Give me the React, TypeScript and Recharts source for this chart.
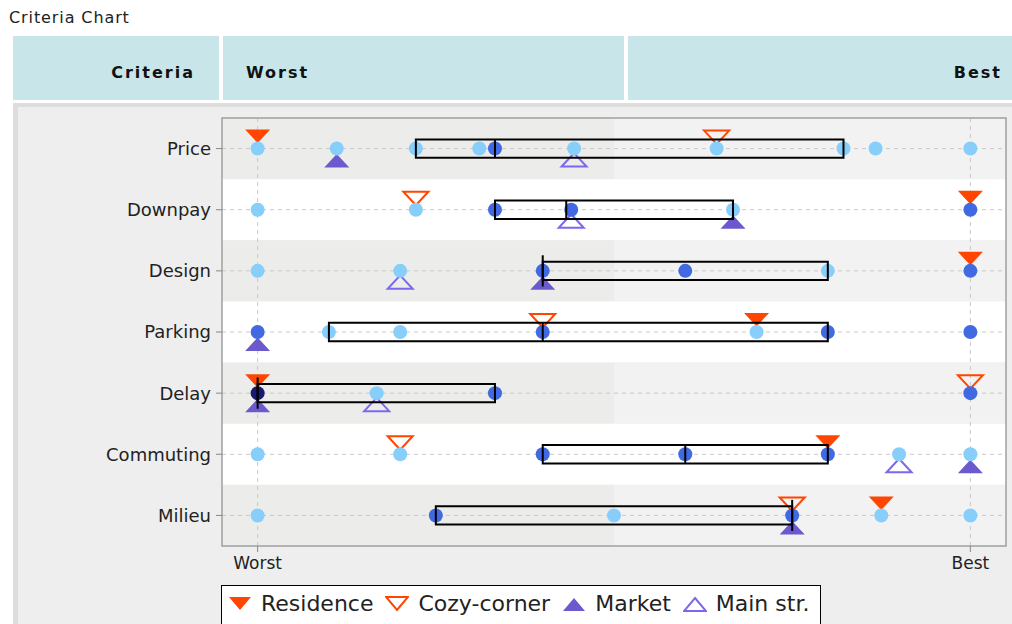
import React from "react";
import {
  ReferenceArea,
  ReferenceLine,
  Scatter,
  ScatterChart,
  XAxis,
  YAxis,
} from "recharts";

const criteria = ["Price", "Downpay", "Design", "Parking", "Delay", "Commuting", "Milieu"];
const xTicks = [0, 1];
const xTickLabels = ["Worst", "Best"];

// option values per criterion (0 = worst, 1 = best)
const lightDots: number[][] = [
  [0, 0.111, 0.222, 0.311, 0.444, 0.644, 0.822, 0.867, 1],
  [0, 0.222, 0.667],
  [0, 0.2, 0.8],
  [0.1, 0.2, 0.7],
  [0.167],
  [0, 0.2, 0.9, 1],
  [0, 0.5, 0.875, 1],
];
const darkDots: number[][] = [
  [0.333],
  [0.333, 0.44, 1],
  [0.4, 0.6, 1],
  [0, 0.4, 0.8, 1],
  [0.333, 1],
  [0.4, 0.6, 0.8],
  [0.25, 0.75],
];
const navyDots: number[][] = [[], [], [], [], [0], [], []];

const boxLow = [0.222, 0.333, 0.4, 0.1, 0, 0.4, 0.25];
const boxMedian = [0.333, 0.433, 0.4, 0.4, 0, 0.6, 0.75];
const boxHigh = [0.822, 0.667, 0.8, 0.8, 0.333, 0.8, 0.75];

const residence = [0, 1, 1, 0.7, 0, 0.8, 0.875];
const cozyCorner = [0.644, 0.222, null, 0.4, 1, 0.2, 0.75];
const market = [0.111, 0.667, 0.4, 0, 0, 1, 0.75];
const mainStr = [0.444, 0.44, 0.2, null, 0.167, 0.9, null];

const FONT = '"DejaVu Sans", sans-serif';
const RED = "#FF4500";
const PURPLE = "#6A5ACD";
const PURPLE_OPEN = "#7B68EE";

const toPoints = (rows: number[][]) =>
  rows.flatMap((vals, row) => vals.map((v) => ({ v, row })));
const toMarks = (vals: (number | null)[]) =>
  vals
    .map((v, row) => (v === null ? null : { v, row }))
    .filter((p) => p !== null) as { v: number; row: number }[];

const downTri = (cx: number, cy: number) =>
  `M${cx - 12.5},${cy - 19} L${cx + 12.5},${cy - 19} L${cx},${cy - 5.5} Z`;
const upTri = (cx: number, cy: number) =>
  `M${cx},${cy + 5.5} L${cx + 12.5},${cy + 19} L${cx - 12.5},${cy + 19} Z`;

const dot = (color: string) => (p: any) =>
  <circle cx={p.cx} cy={p.cy} r={7} fill={color} />;

const LegendTri = ({ up, filled, color }: { up: boolean; filled: boolean; color: string }) => (
  <svg width={24} height={16} style={{ marginRight: 9 }}>
    <path
      d={up ? "M12,2 L23,15 L1,15 Z" : "M1,1 L23,1 L12,14 Z"}
      fill={filled ? color : "none"}
      stroke={color}
      strokeWidth={filled ? 0 : 2}
    />
  </svg>
);

const legendItems = [
  { name: "Residence", up: false, filled: true, color: RED },
  { name: "Cozy-corner", up: false, filled: false, color: RED },
  { name: "Market", up: true, filled: true, color: PURPLE },
  { name: "Main str.", up: true, filled: false, color: PURPLE_OPEN },
];

const headerCell: React.CSSProperties = {
  position: "absolute",
  top: 36,
  height: 64,
  background: "#C8E6E9",
  fontFamily: FONT,
  fontWeight: "bold",
  fontSize: 16,
  letterSpacing: 2,
  color: "#111",
  lineHeight: "74px",
};

export default function App() {
  return (
    <div style={{ position: "absolute", left: 0, top: 0, width: 1012, height: 624, background: "#fff", overflow: "hidden" }}>
      <div style={{ position: "absolute", left: 9, top: 8, fontFamily: FONT, fontSize: 16, letterSpacing: 0.9, color: "#222" }}>
        Criteria Chart
      </div>
      <div style={{ ...headerCell, left: 13, width: 206, textAlign: "right" }}>
        <span style={{ marginRight: 24 }}>Criteria</span>
      </div>
      <div style={{ ...headerCell, left: 223, width: 401 }}>
        <span style={{ marginLeft: 23 }}>Worst</span>
      </div>
      <div style={{ ...headerCell, left: 628, width: 384, textAlign: "right" }}>
        <span style={{ marginRight: 10 }}>Best</span>
      </div>
      <div
        style={{
          position: "absolute",
          left: 13,
          top: 103,
          width: 999,
          height: 521,
          background: "#EEEEEE",
          boxSizing: "border-box",
          borderLeft: "5px solid #DDDDDD",
          borderTop: "4px solid #DDDDDD",
        }}
      />
      <div style={{ position: "absolute", left: 13, top: 103 }}>
        <ScatterChart width={999} height={521} margin={{ top: 15, right: 6, bottom: 48, left: 0 }}>
          <XAxis
            type="number"
            dataKey="v"
            domain={[-0.05, 1.05]}
            ticks={xTicks}
            interval={0}
            tickFormatter={(t: number) => xTickLabels[xTicks.indexOf(t)]}
            axisLine={false}
            tickLine={{ stroke: "#888" }}
            tickSize={6}
            tickMargin={5}
            height={30}
            tick={{ fontFamily: FONT, fontSize: 17, fill: "#222" }}
          />
          <YAxis
            type="number"
            dataKey="row"
            domain={[-0.5, 6.5]}
            reversed
            ticks={criteria.map((_, i) => i)}
            interval={0}
            tickFormatter={(i: number) => criteria[i]}
            axisLine={false}
            tickLine={{ stroke: "#888" }}
            tickSize={6}
            tickMargin={5}
            width={209}
            tick={{ fontFamily: FONT, fontSize: 18, fill: "#222" }}
          />
          {criteria.map((c, i) =>
            i % 2 === 0 ? (
              <React.Fragment key={c}>
                <ReferenceArea x1={-0.05} x2={0.5} y1={i - 0.5} y2={i + 0.5} fill="#ECEDEB" fillOpacity={1} strokeWidth={0} zIndex={50} />
                <ReferenceArea x1={0.5} x2={1.05} y1={i - 0.5} y2={i + 0.5} fill="#F2F2F2" fillOpacity={1} strokeWidth={0} zIndex={50} />
              </React.Fragment>
            ) : (
              <ReferenceArea key={c} x1={-0.05} x2={1.05} y1={i - 0.5} y2={i + 0.5} fill="#FFFFFF" fillOpacity={1} strokeWidth={0} zIndex={50} />
            )
          )}
          {criteria.map((c, i) => (
            <ReferenceLine key={"g" + c} y={i} stroke="#C8C8C8" strokeDasharray="4 4" zIndex={60} />
          ))}
          {xTicks.map((t) => (
            <ReferenceLine key={"gx" + t} x={t} stroke="#C8C8C8" strokeDasharray="4 4" zIndex={60} />
          ))}
          <ReferenceArea x1={-0.05} x2={1.05} y1={-0.5} y2={6.5} fill="none" stroke="#A0A0A0" strokeWidth={1.5} zIndex={65} />
          <Scatter
            data={toMarks(residence)}
            isAnimationActive={false}
            zIndex={600}
            shape={(p: any) => <path d={downTri(p.cx, p.cy)} fill={RED} />}
          />
          <Scatter
            data={toMarks(cozyCorner)}
            isAnimationActive={false}
            zIndex={600}
            shape={(p: any) => <path d={downTri(p.cx, p.cy + 1)} fill="none" stroke={RED} strokeWidth={2} />}
          />
          <Scatter
            data={toMarks(market)}
            isAnimationActive={false}
            zIndex={600}
            shape={(p: any) => <path d={upTri(p.cx, p.cy)} fill={PURPLE} />}
          />
          <Scatter
            data={toMarks(mainStr)}
            isAnimationActive={false}
            zIndex={600}
            shape={(p: any) => <path d={upTri(p.cx, p.cy - 1)} fill="none" stroke={PURPLE_OPEN} strokeWidth={2} />}
          />
          <Scatter data={toPoints(lightDots)} isAnimationActive={false} zIndex={610} shape={dot("#87CEFA")} />
          <Scatter data={toPoints(darkDots)} isAnimationActive={false} zIndex={610} shape={dot("#4169E1")} />
          <Scatter data={toPoints(navyDots)} isAnimationActive={false} zIndex={610} shape={dot("#191970")} />
          {criteria.map((c, i) => (
            <ReferenceArea
              key={"b" + c}
              x1={boxLow[i]}
              x2={boxHigh[i]}
              y1={i - 0.15}
              y2={i + 0.15}
              fill="none"
              stroke="#000"
              strokeWidth={2}
              zIndex={700}
            />
          ))}
          {criteria.map((c, i) => {
            const h = boxMedian[i] === boxLow[i] || boxMedian[i] === boxHigh[i] ? 0.255 : 0.15;
            return (
              <ReferenceLine
                key={"m" + c}
                segment={[
                  { x: boxMedian[i], y: i - h },
                  { x: boxMedian[i], y: i + h },
                ]}
                stroke="#000"
                strokeWidth={2}
                zIndex={700}
              />
            );
          })}
        </ScatterChart>
      </div>
      <div
        style={{
          position: "absolute",
          left: 221,
          top: 585,
          width: 600,
          height: 44,
          boxSizing: "border-box",
          border: "1px solid #000",
          background: "#fff",
          display: "flex",
          alignItems: "flex-start",
          paddingLeft: 6,
          paddingTop: 5,
          fontFamily: FONT,
          fontSize: 22,
          color: "#222",
          whiteSpace: "nowrap",
        }}
      >
        {legendItems.map((it) => (
          <span key={it.name} style={{ display: "flex", alignItems: "center", marginRight: 12 }}>
            <LegendTri up={it.up} filled={it.filled} color={it.color} />
            {it.name}
          </span>
        ))}
      </div>
    </div>
  );
}
